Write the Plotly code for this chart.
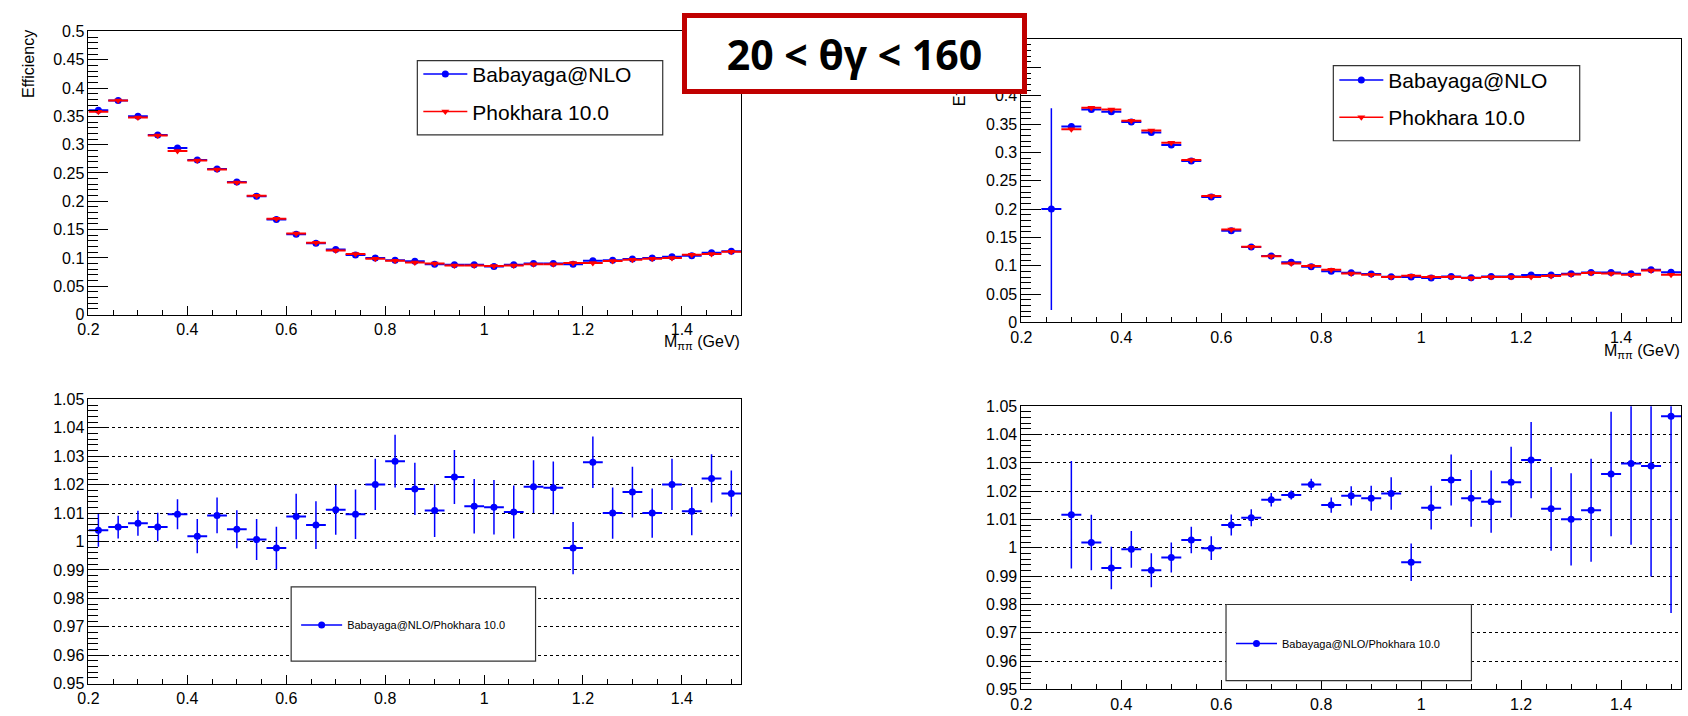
import plotly.graph_objects as go

W, H = 1688, 716

# ---------------- data ----------------
mass = [0.22, 0.26, 0.30, 0.34, 0.38, 0.42, 0.46, 0.50, 0.54, 0.58, 0.62,
        0.66, 0.70, 0.74, 0.78, 0.82, 0.86, 0.90, 0.94, 0.98, 1.02, 1.06,
        1.10, 1.14, 1.18, 1.22, 1.26, 1.30, 1.34, 1.38, 1.42, 1.46, 1.50]
bin_half_width = [0.02] * len(mass)

# 20 < theta_gamma < 160 (left column)
eff_baba_left = [0.361, 0.378, 0.350, 0.317, 0.294, 0.273, 0.257, 0.234, 0.209,
                 0.168, 0.142, 0.126, 0.115, 0.105, 0.100, 0.096, 0.094, 0.089,
                 0.088, 0.088, 0.085, 0.088, 0.090, 0.090, 0.089, 0.095, 0.096,
                 0.098, 0.100, 0.102, 0.104, 0.109, 0.112]
eff_phok_left = [0.358, 0.378, 0.348, 0.316, 0.289, 0.272, 0.256, 0.233, 0.210,
                 0.169, 0.143, 0.127, 0.113, 0.107, 0.0985, 0.095, 0.092, 0.090,
                 0.0864, 0.0864, 0.0858, 0.0864, 0.0887, 0.0887, 0.091, 0.091,
                 0.0945, 0.0968, 0.0985, 0.100, 0.1054, 0.107, 0.111]
ratio_left = [1.0040, 1.0051, 1.0064, 1.0051, 1.0096, 1.0019, 1.0092, 1.0043,
              1.0007, 0.9977, 1.0088, 1.0058, 1.0112, 1.0096, 1.0201, 1.0283,
              1.0185, 1.0109, 1.0227, 1.0124, 1.0121, 1.0104, 1.0193, 1.0189,
              0.9977, 1.0279, 1.0100, 1.0174, 1.0100, 1.0201, 1.0107, 1.0222,
              1.0169]
ratio_left_err = [0.0058, 0.0040, 0.0044, 0.0050, 0.0053, 0.0060, 0.0063, 0.0067,
                  0.0072, 0.0075, 0.0080, 0.0084, 0.0088, 0.0087, 0.0090, 0.0093,
                  0.0092, 0.0093, 0.0095, 0.0096, 0.0096, 0.0093, 0.0093, 0.0093,
                  0.0092, 0.0091, 0.0090, 0.0089, 0.0087, 0.0090, 0.0085, 0.0085,
                  0.0081]

# right column
eff_baba_right = [None, 0.200, 0.346, 0.376, 0.372, 0.354, 0.3355, 0.313, 0.285,
                  0.2216, 0.1617, 0.133, 0.1174, 0.106, 0.0984, 0.0904, 0.0875,
                  0.0852, 0.0806, 0.080, 0.0783, 0.0812, 0.0788, 0.0812, 0.0812,
                  0.0835, 0.0835, 0.0858, 0.088, 0.088, 0.0858, 0.0927, 0.0886]
eff_baba_right_err = [0, 0.178, 0, 0, 0, 0, 0, 0, 0, 0, 0, 0, 0, 0, 0, 0, 0,
                      0, 0, 0, 0, 0, 0, 0, 0, 0, 0, 0, 0, 0, 0, 0, 0]
eff_phok_right = [None, None, 0.341, 0.379, 0.376, 0.356, 0.339, 0.317, 0.2866,
                  0.2233, 0.164, 0.1335, 0.1168, 0.104, 0.0996, 0.0927, 0.0863,
                  0.084, 0.080, 0.0823, 0.080, 0.080, 0.0783, 0.080, 0.080, 0.080,
                  0.0817, 0.0846, 0.087, 0.0863, 0.084, 0.0915, 0.084]
ratio_right = [None, None, 1.0117, 1.0019, 0.9929, 0.9995, 0.9921, 0.9966, 1.0028,
               0.9999, 1.0081, 1.0106, 1.0170, 1.0187, 1.0224, 1.0151, 1.0184,
               1.0175, 1.0192, 0.9949, 1.0142, 1.0240, 1.0175, 1.0163, 1.0232,
               1.0310, 1.0138, 1.0101, 1.0133, 1.0261, 1.0298, 1.0289, 1.0465]
ratio_right_err = [0, 0, 0.0190, 0.0098, 0.0075, 0.0065, 0.0060, 0.0053, 0.0047,
                   0.0042, 0.0037, 0.0030, 0.0024, 0.0016, 0.0020, 0.0027, 0.0034,
                   0.0044, 0.0057, 0.0066, 0.0077, 0.0090, 0.0100, 0.0110, 0.0125,
                   0.0135, 0.0148, 0.0163, 0.0182, 0.0220, 0.0287, 0.0390, 0.0695]

name_baba = "Babayaga@NLO"
name_phok = "Phokhara 10.0"
name_ratio = "Babayaga@NLO/Phokhara 10.0"
title_text = "20 < θγ < 160"

BLUE = "#0000FF"
RED = "#FF0000"
FONT = "Liberation Sans"

# ---------------- layout helpers ----------------
def xdom(p0, p1):
    return [p0 / W, p1 / W]

def ydom(top, bot):
    return [1 - bot / H, 1 - top / H]

fig = go.Figure()

def data_trace(x, y, yerr, color, symbol, xa, ya, size=7):
    return go.Scatter(
        x=x, y=y, mode="markers", xaxis=xa, yaxis=ya, showlegend=False,
        marker=dict(color=color, symbol=symbol, size=size, line=dict(width=0)),
        error_x=dict(type="data", array=bin_half_width, color=color, thickness=2, width=0),
        error_y=dict(type="data", array=yerr, color=color, thickness=1.5, width=0),
        hoverinfo="x+y",
    )

zeros = [0] * len(mass)
# top-left
fig.add_trace(data_trace(mass, eff_baba_left, zeros, BLUE, "circle", "x", "y"))
fig.add_trace(data_trace(mass, eff_phok_left, zeros, RED, "triangle-down", "x", "y"))
# top-right
fig.add_trace(data_trace(mass, eff_baba_right, eff_baba_right_err, BLUE, "circle", "x2", "y2"))
fig.add_trace(data_trace(mass, eff_phok_right, zeros, RED, "triangle-down", "x2", "y2"))
# bottom
fig.add_trace(data_trace(mass, ratio_left, ratio_left_err, BLUE, "circle", "x3", "y3"))
fig.add_trace(data_trace(mass, ratio_right, ratio_right_err, BLUE, "circle", "x4", "y4"))

# legend-only entries
def legend_entry(name, color, symbol, legend, group, xa, ya, msize=7):
    return go.Scatter(x=[None], y=[None], mode="lines+markers", name=name,
                      legend=legend, legendgroup=group, xaxis=xa, yaxis=ya,
                      line=dict(color=color, width=1.5),
                      marker=dict(color=color, symbol=symbol, size=msize))

fig.add_trace(legend_entry(name_baba, BLUE, "circle", "legend", "a", "x", "y"))
fig.add_trace(legend_entry(name_phok, RED, "triangle-down", "legend", "b", "x", "y"))
fig.add_trace(legend_entry(name_baba, BLUE, "circle", "legend2", "c", "x2", "y2"))
fig.add_trace(legend_entry(name_phok, RED, "triangle-down", "legend2", "d", "x2", "y2"))
fig.add_trace(legend_entry(name_ratio, BLUE, "circle", "legend3", "e", "x3", "y3"))
fig.add_trace(legend_entry(name_ratio, BLUE, "circle", "legend4", "f", "x4", "y4"))

tickfont = dict(family=FONT, size=16, color="black")

def xaxis(domain, anchor):
    return dict(domain=domain, anchor=anchor, range=[0.2, 1.52],
                showline=True, mirror=True, linecolor="black", linewidth=1,
                ticks="inside", ticklen=9, tickwidth=1, tickcolor="black",
                tick0=0, dtick=0.2,
                minor=dict(ticks="inside", ticklen=5, tickwidth=1, tickcolor="black",
                           dtick=0.05, showgrid=False),
                showgrid=False, zeroline=False, tickfont=tickfont)

def yaxis_eff(domain, anchor):
    return dict(domain=domain, anchor=anchor, range=[0, 0.5],
                showline=True, mirror=True, linecolor="black", linewidth=1,
                ticks="inside", ticklen=20, tickwidth=1, tickcolor="black",
                tick0=0, dtick=0.05,
                minor=dict(ticks="inside", ticklen=10, tickwidth=1, tickcolor="black",
                           dtick=0.01, showgrid=False),
                showgrid=False, zeroline=False, tickfont=tickfont)

def yaxis_ratio(domain, anchor):
    return dict(domain=domain, anchor=anchor, range=[0.95, 1.05],
                showline=True, mirror=True, linecolor="black", linewidth=1,
                ticks="inside", ticklen=20, tickwidth=1, tickcolor="black",
                tick0=0.95, dtick=0.01,
                minor=dict(ticks="inside", ticklen=10, tickwidth=1, tickcolor="black",
                           dtick=0.002, showgrid=False),
                showgrid=True, gridcolor="black", gridwidth=1, griddash="dot",
                zeroline=False, tickfont=tickfont)

L_X = xdom(78, 735)
R_X = xdom(1017, 1681)

def legend_box(x0, y0, x1, y1):
    return dict(type="rect", xref="paper", yref="paper",
                x0=x0 / W, x1=x1 / W, y0=1 - y1 / H, y1=1 - y0 / H,
                line=dict(color="#333333", width=1.2), fillcolor="white", layer="above")

def legend_cfg(xpx, ypx, size, itemwidth, gap=0):
    return dict(x=xpx / W, y=1 - ypx / H, xanchor="left", yanchor="middle",
                xref="paper", yref="paper", bgcolor="rgba(0,0,0,0)", borderwidth=0,
                font=dict(family=FONT, size=size, color="black"),
                itemwidth=itemwidth, tracegroupgap=gap, traceorder="grouped",
                itemclick=False, itemdoubleclick=False)

fig.update_layout(
    width=W, height=H, margin=dict(l=0, r=0, t=0, b=0),
    paper_bgcolor="white", plot_bgcolor="white",
    xaxis=xaxis(L_X, "y"), yaxis=yaxis_eff(ydom(24, 314), "x"),
    xaxis2=xaxis(R_X, "y2"), yaxis2=yaxis_eff(ydom(32, 322), "x2"),
    xaxis3=xaxis(L_X, "y3"), yaxis3=yaxis_ratio(ydom(401, 692), "x3"),
    xaxis4=xaxis(R_X, "y4"), yaxis4=yaxis_ratio(ydom(408, 698), "x4"),
    legend=legend_cfg(410, 87, 21, 44, 7),
    legend2=legend_cfg(1332, 93, 21, 44, 7),
    legend3=legend_cfg(287, 632, 11, 41),
    legend4=legend_cfg(1228, 651, 11, 41),
    shapes=[legend_box(409, 54, 656, 130), legend_box(1331, 59, 1579, 136),
            legend_box(282, 593, 528, 669), legend_box(1223, 611, 1470, 689)],
    showlegend=True,
)

axfont = dict(family=FONT, size=16, color="black")
annotations = [
    dict(text="Efficiency", xref="paper", yref="paper", x=17 / W, y=1 - 57.5 / H,
         textangle=-90, showarrow=False, font=axfont, xanchor="center", yanchor="middle"),
    dict(text="Efficiency", xref="paper", yref="paper", x=955 / W, y=1 - 66 / H,
         textangle=-90, showarrow=False, font=axfont, xanchor="center", yanchor="middle"),
    dict(text="M<sub>ππ</sub> (GeV)", xref="paper", yref="paper", x=736 / W, y=1 - 343 / H,
         showarrow=False, font=dict(family=FONT, size=16, color="black"),
         xanchor="right", yanchor="middle"),
    dict(text="M<sub>ππ</sub> (GeV)", xref="paper", yref="paper", x=1682 / W, y=1 - 352 / H,
         showarrow=False, font=dict(family=FONT, size=16, color="black"),
         xanchor="right", yanchor="middle"),
    dict(text=title_text, xref="paper", yref="paper", x=849.5 / W, y=1 - 46.5 / H,
         xanchor="center", yanchor="middle", showarrow=False,
         width=335, height=71, align="center", valign="middle",
         bgcolor="white", bordercolor="#C00000", borderwidth=5, borderpad=0,
         font=dict(family="Open Sans", size=41, color="black", weight="bold")),
]
fig.update_layout(annotations=annotations)

fig.write_html("out.html")
